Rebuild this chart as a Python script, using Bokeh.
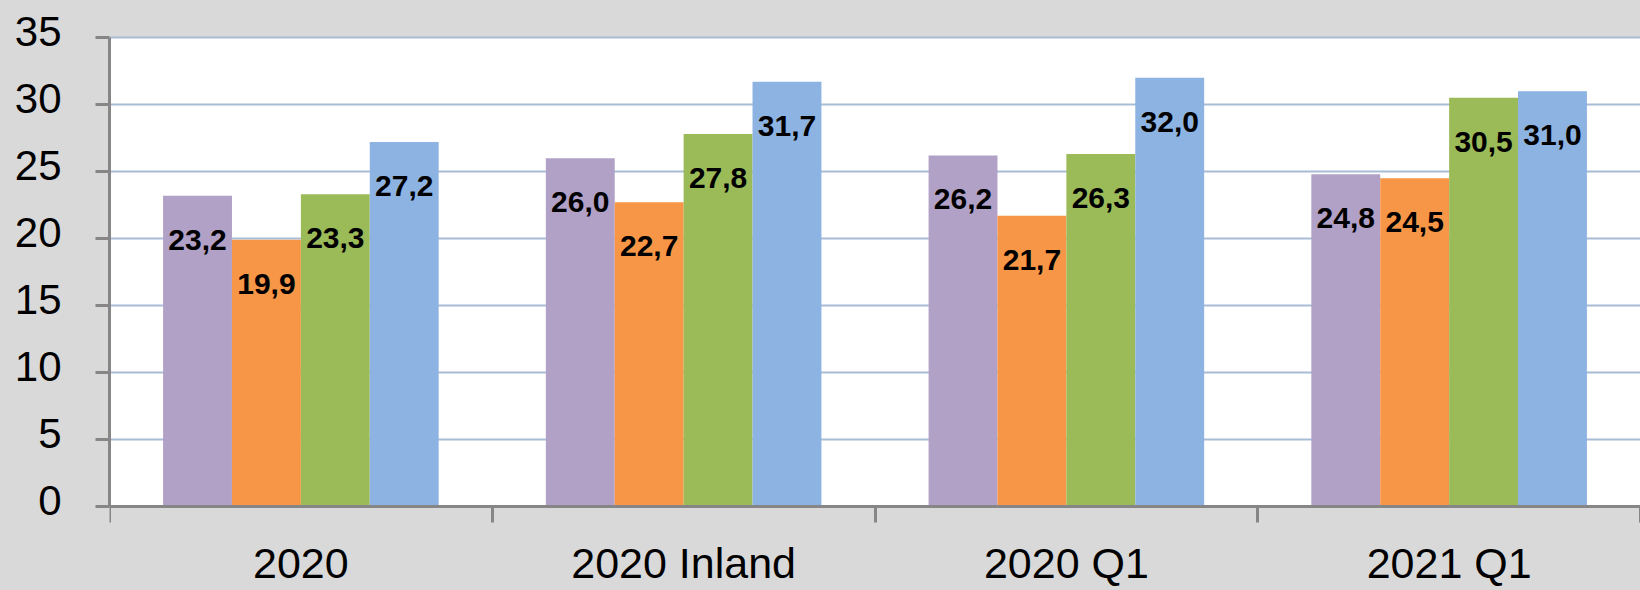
from bokeh.plotting import figure
from bokeh.models import Range1d, FixedTicker, ColumnDataSource, LinearAxis, BoxAnnotation
from bokeh.core.properties import value
from bokeh.embed import file_html
from bokeh.resources import INLINE

# ---- data ----
categories = ["2020", "2020 Inland", "2020 Q1", "2021 Q1"]
series_purple = [23.2, 26.0, 26.2, 24.8]
series_orange = [19.9, 22.7, 21.7, 24.5]
series_green = [23.3, 27.8, 26.3, 30.5]
series_blue = [27.2, 31.7, 32.0, 31.0]
y_ticks = [0, 5, 10, 15, 20, 25, 30, 35]

series = [series_purple, series_orange, series_green, series_blue]
colors = ["#b2a1c7", "#f79646", "#9bbb59", "#8db3e2"]

FONT = "Liberation Sans"
BAR_W = 0.18
GRAY = "#d9d9d9"
AXIS_COL = "#868686"

# view range: the frame reaches into the grey band above and below the plot
Y0, Y1 = -6.27, 35.6
LAB_SHIFT = -0.42           # tick labels sit slightly above their ticks

p = figure(
    width=1640, height=590,
    x_range=Range1d(0, 4.0), y_range=Range1d(Y0, Y1),
    output_backend="svg", toolbar_location=None,
    min_border_left=109, min_border_right=0,
    min_border_top=29, min_border_bottom=0,
)
p.styles = {"background-color": GRAY}
p.background_fill_color = GRAY
p.border_fill_color = GRAY
p.outline_line_color = None

# white plotting area between 0 and the axis maximum
p.add_layout(BoxAnnotation(bottom=min(y_ticks), top=max(y_ticks),
                           fill_color="white", fill_alpha=1.0,
                           line_color=None, level="image"))

# grid
p.xgrid.visible = False
p.ygrid.ticker = FixedTicker(ticks=y_ticks)
p.ygrid.grid_line_color = "#a9bcd6"
p.ygrid.grid_line_width = 2

# y axis: line + ticks
ya = p.yaxis[0]
ya.ticker = FixedTicker(ticks=y_ticks)
ya.bounds = (min(y_ticks), max(y_ticks))
ya.axis_line_color = AXIS_COL
ya.axis_line_width = 3
ya.major_tick_line_color = AXIS_COL
ya.major_tick_line_width = 3
ya.major_tick_out = 14
ya.major_tick_in = 0
ya.minor_tick_out = 0
ya.minor_tick_in = 0
ya.major_label_standoff = 0
ya.major_label_text_font_size = "1px"
ya.major_label_text_color = None

# y axis: tick labels
p.extra_y_ranges = {"lab": Range1d(Y0 + LAB_SHIFT, Y1 + LAB_SHIFT)}
yl = LinearAxis(y_range_name="lab", ticker=FixedTicker(ticks=y_ticks))
yl.axis_line_color = None
yl.major_tick_line_color = None
yl.minor_tick_line_color = None
yl.major_tick_out = 0
yl.major_tick_in = 0
yl.minor_tick_out = 0
yl.minor_tick_in = 0
yl.major_label_standoff = 34
yl.major_label_text_font = FONT
yl.major_label_text_font_size = "42px"
yl.major_label_text_color = "black"
p.add_layout(yl, "left")

# x axis at zero
centers = [i + 0.5 for i in range(len(categories))]
bounds = [float(i) for i in range(len(categories) + 1)]
xa = p.xaxis[0]
xa.fixed_location = 0
xa.ticker = FixedTicker(ticks=centers, minor_ticks=bounds)
xa.major_label_overrides = {c: lab for c, lab in zip(centers, categories)}
xa.axis_line_color = AXIS_COL
xa.axis_line_width = 3
xa.major_tick_out = 0
xa.major_tick_in = 0
xa.minor_tick_out = 16
xa.minor_tick_in = 0
xa.minor_tick_line_color = AXIS_COL
xa.minor_tick_line_width = 3
xa.major_label_standoff = 17
xa.major_label_text_font = FONT
xa.major_label_text_font_size = "43px"
xa.major_label_text_color = "black"

# bars + labels
for j, (vals, col) in enumerate(zip(series, colors)):
    xs = [i + 0.5 + (j - 1.5) * BAR_W for i in range(len(categories))]
    src = ColumnDataSource(dict(
        x=xs, top=vals,
        label=[f"{v:.1f}".replace(".", ",") for v in vals],
    ))
    p.vbar(x="x", top="top", width=BAR_W, source=src,
           fill_color=col, line_color=None)
    p.text(x="x", y="top", text="label", source=src,
           text_align="center", text_baseline="middle", y_offset=44,
           text_font=value(FONT), text_font_style="bold",
           text_font_size="30px", text_color="black")

open("out.html", "w").write(file_html(p, INLINE))
